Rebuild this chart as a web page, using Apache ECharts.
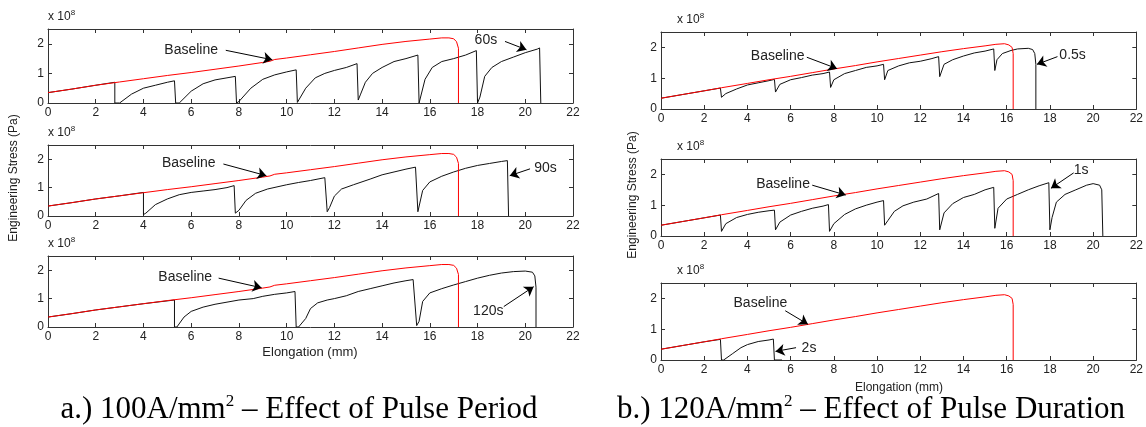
<!DOCTYPE html>
<html><head><meta charset="utf-8">
<script src="https://cdn.jsdelivr.net/npm/echarts@6/dist/echarts.min.js"></script>
<style>html,body{margin:0;padding:0;background:#fff}#c{width:1146px;height:427px}</style>
</head><body><div id="c"></div>
<script>
// Values in units of 1e8 Pa, elongation in mm
const xTicks = [0,2,4,6,8,10,12,14,16,18,20,22];
const yTicks = [0,1,2];

// Left figure (100 A/mm^2) baseline
const baseA = [[0,0.35],[1,0.47],[2,0.6],[3,0.71],[4,0.82],[5,0.93],[6,1.03],[7,1.14],[8,1.25],[9,1.37],[9.3,1.41],[9.5,1.47],[10,1.52],[11,1.63],[12,1.74],[13,1.86],[14,1.98],[15,2.08],[16,2.16],[16.5,2.2],[16.8,2.2],[17.0,2.17],[17.12,2.07],[17.2,1.85],[17.2,0]];
// 60 s pulse period
const curve60 = [[0,0.35],[1,0.47],[2,0.6],[2.8,0.7],[2.8,0],[3.0,0],[3.5,0.3],[4,0.5],[4.5,0.6],[5,0.7],[5.3,0.75],[5.35,0],[5.5,0],[6,0.4],[6.5,0.65],[7,0.78],[7.5,0.85],[7.85,0.9],[7.9,0],[8.0,0.05],[8.5,0.5],[9,0.8],[9.5,0.95],[10,1.05],[10.4,1.12],[10.45,0.02],[10.5,0.05],[10.8,0.5],[11.2,0.85],[11.6,1.0],[12,1.1],[12.5,1.2],[12.95,1.33],[13.0,0.1],[13.1,0.3],[13.3,0.7],[13.6,1.0],[14,1.2],[14.5,1.4],[15,1.5],[15.5,1.62],[15.55,0],[15.6,0],[15.8,0.8],[16.1,1.2],[16.5,1.4],[17,1.5],[17.5,1.62],[17.95,1.77],[18.0,0],[18.1,0.2],[18.3,0.9],[18.6,1.2],[19,1.4],[19.5,1.55],[20,1.7],[20.5,1.82],[20.6,1.86],[20.65,0]];
// 90 s pulse period
const curve90 = [[0,0.35],[1,0.47],[2,0.6],[3,0.71],[4.0,0.83],[4.0,0.05],[4.1,0.1],[4.5,0.4],[5,0.6],[5.5,0.75],[6,0.83],[6.5,0.88],[7,0.93],[7.5,1.0],[7.8,1.07],[7.85,0.1],[8,0.2],[8.3,0.55],[8.7,0.8],[9.2,0.95],[10,1.1],[10.5,1.18],[11,1.25],[11.6,1.35],[11.7,0.15],[11.8,0.3],[12,0.7],[12.3,0.95],[12.8,1.1],[13.5,1.3],[14,1.45],[14.5,1.55],[15,1.65],[15.4,1.72],[15.5,0.15],[15.55,0.2],[15.7,0.9],[16,1.2],[16.5,1.4],[17,1.55],[17.5,1.68],[18,1.78],[18.5,1.85],[19,1.92],[19.25,1.95],[19.3,0]];
// 120 s pulse period
const curve120 = [[0,0.35],[1,0.47],[2,0.6],[3,0.71],[4,0.82],[5.3,0.95],[5.3,0],[5.4,0],[5.7,0.35],[6,0.55],[6.5,0.7],[7,0.8],[8,0.95],[8.6,1.0],[9,1.08],[9.5,1.15],[10,1.2],[10.35,1.25],[10.4,0],[10.5,0],[10.8,0.3],[11,0.65],[11.3,0.85],[11.7,0.95],[12,1.0],[12.5,1.1],[13,1.25],[13.5,1.35],[14,1.45],[14.5,1.55],[15,1.63],[15.3,1.67],[15.45,0.05],[15.55,0.2],[15.7,0.9],[16,1.2],[16.5,1.35],[17,1.48],[17.5,1.6],[18,1.72],[18.5,1.82],[19,1.9],[19.5,1.95],[20,1.97],[20.3,1.93],[20.4,1.8],[20.45,1.4],[20.45,0]];

// Right figure (120 A/mm^2) baseline
const baseB = [[0,0.35],[1,0.47],[2,0.59],[2.8,0.69],[4,0.83],[5,0.95],[6,1.06],[7,1.18],[8,1.3],[9,1.41],[10,1.53],[11,1.64],[12,1.75],[13,1.86],[14,1.96],[15,2.05],[15.5,2.1],[15.9,2.12],[16.1,2.08],[16.25,2.0],[16.3,1.8],[16.3,0]];
// 0.5 s pulse duration
const curve05 = [[0,0.35],[1,0.47],[2,0.59],[2.75,0.68],[2.8,0.38],[3.0,0.5],[3.5,0.65],[4,0.78],[4.5,0.85],[5,0.92],[5.25,0.96],[5.3,0.55],[5.5,0.8],[6,0.95],[6.5,1.02],[7,1.1],[7.5,1.15],[7.8,1.2],[7.85,0.7],[8.0,0.95],[8.5,1.15],[9,1.25],[9.5,1.35],[10,1.4],[10.3,1.45],[10.35,0.95],[10.5,1.25],[11,1.4],[11.5,1.5],[12,1.55],[12.5,1.63],[12.85,1.7],[12.9,1.05],[13.1,1.45],[13.5,1.6],[14,1.72],[14.5,1.82],[15,1.88],[15.4,1.95],[15.45,1.25],[15.55,1.6],[15.8,1.8],[16.2,1.9],[16.5,1.95],[17,1.97],[17.2,1.93],[17.3,1.8],[17.35,1.45],[17.35,0]];
// 1 s pulse duration
const curve1 = [[0,0.35],[1,0.47],[2,0.59],[2.75,0.68],[2.8,0.15],[3,0.4],[3.5,0.6],[4,0.7],[4.5,0.77],[5,0.82],[5.25,0.84],[5.3,0.2],[5.5,0.45],[6,0.68],[6.5,0.8],[7,0.9],[7.5,0.97],[7.75,1.02],[7.8,0.15],[8,0.4],[8.5,0.7],[9,0.88],[9.5,1.0],[10,1.1],[10.3,1.15],[10.35,0.35],[10.5,0.5],[10.8,0.8],[11.2,0.98],[11.7,1.1],[12.3,1.2],[12.85,1.38],[12.9,0.2],[13.1,0.75],[13.5,1.05],[14,1.25],[14.5,1.35],[15,1.5],[15.4,1.58],[15.45,0.25],[15.6,0.9],[16,1.2],[16.5,1.35],[17,1.5],[17.5,1.63],[17.95,1.73],[18.0,0.2],[18.1,0.6],[18.3,1.1],[18.7,1.35],[19.2,1.5],[19.7,1.65],[20,1.7],[20.3,1.65],[20.4,1.5],[20.45,0]];
// 2 s pulse duration
const curve2 = [[0,0.35],[1,0.47],[2,0.59],[2.75,0.67],[2.8,0],[2.9,0],[3.3,0.2],[3.7,0.4],[4,0.5],[4.5,0.6],[5,0.65],[5.2,0.68],[5.25,0],[5.6,0]];

const labels = ['60s','90s','120s','0.5s','1s','2s'];

// annotation anchors (data coords): text position and arrow [from],[to]
const notes = [
  {b:[6.0,1.8], ba:[[7.45,1.78],[9.4,1.46]], t:[18.35,2.12], ta:[[19.15,2.08],[20.05,1.8]]},
  {b:[5.9,1.85], ba:[[7.35,1.83],[9.15,1.42]], t:[20.85,1.68], ta:[[20.2,1.66],[19.35,1.42]]},
  {b:[5.75,1.77], ba:[[7.15,1.72],[8.95,1.38]], t:[18.45,0.55], ta:[[19.1,0.72],[20.35,1.42]]},
  {b:[5.4,1.7], ba:[[6.75,1.68],[8.15,1.31]], t:[19.05,1.74], ta:[[18.35,1.7],[17.4,1.45]]},
  {b:[5.65,1.68], ba:[[7.0,1.65],[8.55,1.33]], t:[19.45,2.15], ta:[[19.1,2.05],[18.05,1.55]]},
  {b:[4.6,1.85], ba:[[5.75,1.6],[6.8,1.16]], t:[6.85,0.4], ta:[[6.25,0.4],[5.3,0.28]]}
];

const grids = [
  {left:48, top:29, width:525, height:74},
  {left:48, top:145, width:525, height:71},
  {left:48, top:256, width:525, height:71},
  {left:661, top:32, width:476, height:77},
  {left:661, top:159, width:476, height:77},
  {left:661, top:283, width:476, height:77}
];
const bases = [baseA, baseA, baseA, baseB, baseB, baseB];
const curves = [curve60, curve90, curve120, curve05, curve1, curve2];

const FONT = '"Liberation Sans", Arial, sans-serif';
const frame = '#333';
const xAxis = [], yAxis = [], series = [], graphic = [];

grids.forEach((g, i) => {
  const common = {min:0, max:22, interval:2, type:'value'};
  const tick = {show:true, inside:true, length:4, lineStyle:{color:frame}};
  xAxis.push(Object.assign({}, common, {gridIndex:i, position:'bottom',
    axisLine:{show:true, onZero:false, lineStyle:{color:frame, width:1}}, axisTick:tick,
    axisLabel:{show:true, color:'#222', fontFamily:FONT, fontSize:12, margin:4},
    splitLine:{show:false}}));
  xAxis.push(Object.assign({}, common, {gridIndex:i, position:'top',
    axisLine:{show:true, onZero:false, lineStyle:{color:frame, width:1}}, axisTick:tick,
    axisLabel:{show:false}, splitLine:{show:false}}));
  const yc = {type:'value', min:0, max:2.5, interval:1};
  yAxis.push(Object.assign({}, yc, {gridIndex:i, position:'left',
    axisLine:{show:true, onZero:false, lineStyle:{color:frame, width:1}}, axisTick:tick,
    axisLabel:{show:true, color:'#222', fontFamily:FONT, fontSize:12, margin:4,
      formatter: v => yTicks.includes(v) ? String(v) : ''},
    splitLine:{show:false}}));
  yAxis.push(Object.assign({}, yc, {gridIndex:i, position:'right',
    axisLine:{show:true, onZero:false, lineStyle:{color:frame, width:1}}, axisTick:tick,
    axisLabel:{show:false}, splitLine:{show:false}}));

  series.push({type:'line', xAxisIndex:2*i, yAxisIndex:2*i, data:bases[i], showSymbol:false,
    symbol:'none', lineStyle:{color:'#ff0000', width:1}, animation:false, silent:true, z:3});
  const n = notes[i];
  series.push({type:'line', xAxisIndex:2*i, yAxisIndex:2*i, data:curves[i], showSymbol:false,
    symbol:'none', lineStyle:{color:'#111', width:1}, animation:false, silent:true, z:2,
    markLine:{silent:true, animation:false, symbol:['none','arrow'], symbolSize:9,
      lineStyle:{color:'#000', width:1, type:'solid'}, label:{show:false},
      data:[[{coord:n.ba[0]},{coord:n.ba[1]}],[{coord:n.ta[0]},{coord:n.ta[1]}]]},
    markPoint:{silent:true, animation:false, symbol:'circle', symbolSize:1,
      itemStyle:{color:'rgba(0,0,0,0)'},
      label:{show:true, position:'inside', color:'#222', fontFamily:FONT, fontSize:14},
      data:[{coord:n.b, label:{formatter:'Baseline'}},{coord:n.t, label:{formatter:labels[i]}}]}
  });

  graphic.push({type:'text', left:g.left + (i<3?0:16), top:g.top - 20,
    style:{text:'x 10{s|8}', font:'12px ' + FONT, fill:'#222',
      rich:{s:{fontSize:8, verticalAlign:'top', padding:[0,0,8,0], fontFamily:FONT}}}});
});

graphic.push({type:'text', x:14, y:178, rotation:Math.PI/2, style:{text:'Engineering Stress (Pa)', font:'12px ' + FONT, fill:'#222', align:'center', verticalAlign:'middle'}});
graphic.push({type:'text', x:633, y:195, rotation:Math.PI/2, style:{text:'Engineering Stress (Pa)', font:'12px ' + FONT, fill:'#222', align:'center', verticalAlign:'middle'}});
graphic.push({type:'text', x:310, y:352, style:{text:'Elongation (mm)', font:'13px ' + FONT, fill:'#222', align:'center', verticalAlign:'middle'}});
graphic.push({type:'text', x:899, y:388, style:{text:'Elongation (mm)', font:'12px ' + FONT, fill:'#222', align:'center', verticalAlign:'middle'}});
const SERIF = '"Liberation Serif", "Times New Roman", serif';
graphic.push({type:'text', x:299, y:410, style:{text:'a.) 100A/mm{s|2} – Effect of Pulse Period', font:'31px ' + SERIF, fill:'#000', align:'center', verticalAlign:'middle',
  rich:{s:{fontSize:17, fontFamily:SERIF, verticalAlign:'top', padding:[0,0,16,0]}}}});
graphic.push({type:'text', x:871, y:410, style:{text:'b.) 120A/mm{s|2} – Effect of Pulse Duration', font:'31px ' + SERIF, fill:'#000', align:'center', verticalAlign:'middle',
  rich:{s:{fontSize:17, fontFamily:SERIF, verticalAlign:'top', padding:[0,0,16,0]}}}});

const chart = echarts.init(document.getElementById('c'), null, {renderer:'canvas'});
chart.setOption({animation:false, backgroundColor:'#fff', grid:grids, xAxis, yAxis, series, graphic});
</script></body></html>
